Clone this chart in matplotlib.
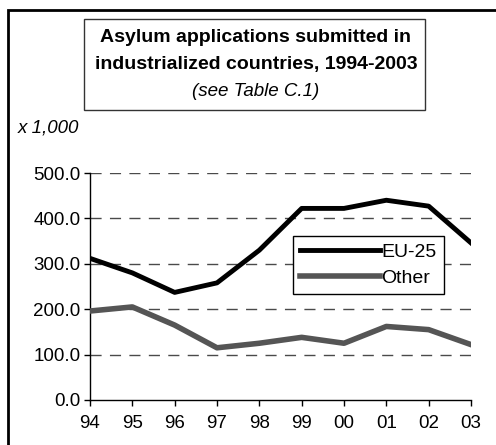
import matplotlib
matplotlib.use("Agg")
from matplotlib import pyplot as plt
from matplotlib.patches import Rectangle

plt.rcParams['font.family'] = ['Liberation Sans', 'DejaVu Sans']

years = ['94', '95', '96', '97', '98', '99', '00', '01', '02', '03']
eu25 = [312, 280, 237, 258, 330, 422, 422, 440, 427, 346]
other = [196, 205, 165, 115, 125, 138, 125, 162, 155, 122]
yticks = [0, 100, 200, 300, 400, 500]

fig = plt.figure(figsize=(4.96, 4.45), dpi=100)
ax = fig.add_axes([90 / 496, 1 - 400 / 445, 381 / 496, 227 / 445])

x = list(range(len(years)))
for v in yticks[1:]:
    ax.axhline(v, color='#4a4a4a', lw=1, ls=(0, (8, 6)), zorder=1)

ax.plot(x, eu25, color='black', lw=3.5, label='EU-25', zorder=3)
ax.plot(x, other, color='#555555', lw=4, label='Other', zorder=3)

ax.set_xlim(0, len(years) - 1)
ax.set_ylim(0, 500)
ax.set_xticks(x)
ax.set_xticklabels(years)
ax.set_yticks(yticks)
ax.set_yticklabels([f'{v:.1f}' for v in yticks])
ax.tick_params(direction='out', length=4, width=1, labelsize=13.5)
ax.tick_params(axis='x', pad=7)
ax.tick_params(axis='y', pad=3)
for s in ['top', 'right']:
    ax.spines[s].set_visible(False)
for s in ['left', 'bottom']:
    ax.spines[s].set_linewidth(1)

leg = ax.legend(loc='upper left', bbox_to_anchor=(0.533, 0.722), fontsize=14,
                frameon=True, fancybox=False, edgecolor='black', framealpha=1,
                handlelength=4.1, handletextpad=0.1, borderpad=0.35,
                borderaxespad=0, labelspacing=0.45)
leg.get_frame().set_linewidth(1)
leg.set_zorder(5)

# outer frame
fig.patches.append(Rectangle((8 / 496, -0.05), 1.1, 1.05 - 10 / 445,
                             transform=fig.transFigure, fill=False,
                             edgecolor='black', lw=2))
# title box
fig.patches.append(Rectangle((84 / 496, 1 - 110 / 445), 341 / 496, 91 / 445,
                             transform=fig.transFigure, fill=False,
                             edgecolor='#333333', lw=1))
fig.text(256 / 496, 1 - 38 / 445, 'Asylum applications submitted in',
         ha='center', va='center', fontsize=14, fontweight='bold')
fig.text(256 / 496, 1 - 65 / 445, 'industrialized countries, 1994-2003',
         ha='center', va='center', fontsize=14, fontweight='bold')
fig.text(256 / 496, 1 - 91 / 445, '(see Table C.1)',
         ha='center', va='center', fontsize=13.5, style='italic')
fig.text(18 / 496, 1 - 128 / 445, 'x 1,000', ha='left', va='center',
         fontsize=13.5, style='italic')

fig.savefig('out.png', dpi=100)
